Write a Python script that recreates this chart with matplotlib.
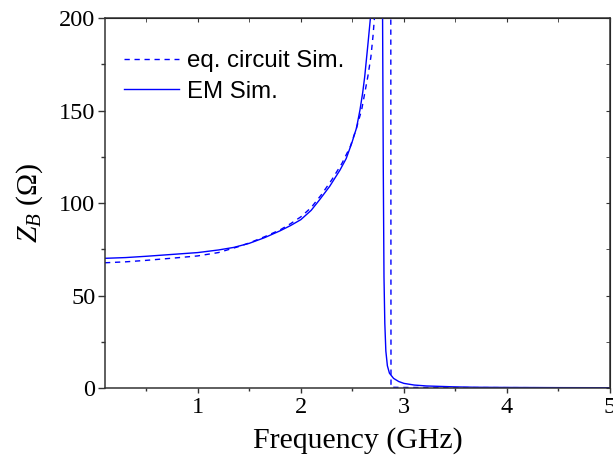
import matplotlib
matplotlib.use("Agg")
import matplotlib.pyplot as plt
import numpy as np
from matplotlib.ticker import MultipleLocator

plt.rcParams["font.family"] = "Liberation Serif"
plt.rcParams["mathtext.fontset"] = "custom"
plt.rcParams["mathtext.rm"] = "Liberation Serif"
plt.rcParams["mathtext.it"] = "Liberation Serif:italic"

# EM simulation (solid); NaN splits the two branches of the pole
em_freq = [0.1, 0.3, 0.5, 0.8, 1.0, 1.2, 1.35, 1.5, 1.65, 1.8, 1.9, 2.0, 2.1, 2.18,
           2.28, 2.38, 2.44, 2.494, 2.54, 2.574, 2.60, 2.62, 2.652, 2.675, 2.69,
           2.75,
           2.793, 2.80, 2.807, 2.815, 2.825, 2.84, 2.86, 2.9, 2.95, 3.0, 3.1, 3.22,
           3.5, 3.7, 4.0, 4.5, 5.0]
em_z = [70.1, 70.5, 71.2, 72.4, 73.2, 74.6, 76.0, 78.2, 81.3, 85.0, 87.8, 91.0, 96.0, 101.6,
        109.0, 117.8, 124.0, 132.3, 140.5, 150.3, 159.5, 168.3, 186.3, 199.8, 212.0,
        np.nan,
        205.0, 120.0, 60.0, 35.0, 20.0, 12.0, 8.0, 5.2, 3.5, 2.5, 1.6, 1.1,
        0.6, 0.4, 0.3, 0.2, 0.15]

# equivalent circuit simulation (dashed)
eq_freq = [0.1, 0.3, 0.5, 0.8, 1.0, 1.2, 1.4, 1.5, 1.65, 1.8, 1.9, 2.0, 2.1, 2.2,
           2.3, 2.4, 2.48, 2.54, 2.59, 2.65, 2.68, 2.70, 2.72,
           2.8,
           2.873, 2.875, 3.0, 4.0, 5.0]
eq_z = [67.7, 68.2, 69.0, 70.4, 71.4, 73.2, 76.5, 78.4, 81.8, 85.5, 88.8, 92.5, 97.5, 104.5,
        112.5, 121.5, 130.5, 140.5, 150.3, 168.3, 179.0, 190.0, 204.0,
        np.nan,
        210.0, 0.4, 0.3, 0.2, 0.1]

fig = plt.figure(figsize=(6.13, 4.61), dpi=100)
ax = fig.add_axes([105 / 613, 73 / 461, 505 / 613, 370 / 461])

blue = "#0000ff"
ax.plot(eq_freq, eq_z, color=blue, lw=1.0, linestyle=(0, (3.8, 3.4)),
        label="eq. circuit Sim.")
ax.plot(em_freq, em_z, color=blue, lw=1.0, label="EM Sim.")

ax.set_xlim(0.1, 5)
ax.set_ylim(0, 200)
ax.xaxis.set_major_locator(MultipleLocator(1))
ax.xaxis.set_minor_locator(MultipleLocator(0.5))
ax.yaxis.set_major_locator(MultipleLocator(50))
ax.yaxis.set_minor_locator(MultipleLocator(25))

for s in ax.spines.values():
    s.set_color("#333333")
    s.set_linewidth(1.1)

ax.tick_params(axis="both", which="both", direction="out", color="#333333",
               labelsize=17.5, width=1.0)
ax.tick_params(axis="y", which="major", length=5, pad=2)
ax.tick_params(axis="y", which="minor", length=2.7)
ax.tick_params(axis="x", which="major", length=3.6, pad=3)
ax.tick_params(axis="x", which="minor", length=2.4)

# mirrored ticks pointing inwards on top and right
right = ax.secondary_yaxis("right")
right.yaxis.set_major_locator(MultipleLocator(50))
right.yaxis.set_minor_locator(MultipleLocator(25))
right.tick_params(which="both", direction="in", length=3, labelright=False,
                  color="#333333")
top = ax.secondary_xaxis("top")
top.xaxis.set_major_locator(MultipleLocator(1))
top.xaxis.set_minor_locator(MultipleLocator(0.5))
top.tick_params(which="both", direction="in", length=3, labeltop=False,
                color="#333333")

ax.set_xlabel("Frequency (GHz)", fontsize=21.5)
ax.xaxis.set_label_coords(0.5, -0.105)
ax.set_ylabel(r"$Z_B$ (Ω)", fontsize=21.5)
ax.yaxis.set_label_coords(-0.118, 0.5)

ax.legend(loc="upper left", bbox_to_anchor=(0.0376, 0.913), frameon=False,
          borderpad=0, borderaxespad=0, handlelength=2.3, handletextpad=0.33,
          labelspacing=0.35, prop={"family": "Liberation Sans", "size": 17.3})

fig.savefig("out.png", dpi=100)
